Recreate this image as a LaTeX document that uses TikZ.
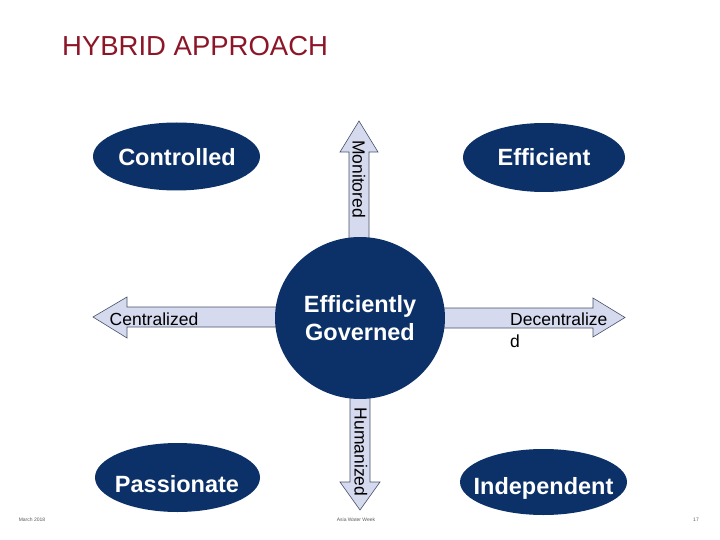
\documentclass[tikz,border=0pt]{standalone}
\usepackage{fontspec}
\setmainfont{Liberation Sans}
\usetikzlibrary{shapes.geometric}
\definecolor{navy}{RGB}{11,49,104}
\definecolor{lav}{RGB}{214,218,238}
\definecolor{edgec}{RGB}{70,80,105}
\definecolor{titlered}{RGB}{140,22,40}
\definecolor{footgray}{RGB}{90,90,90}
\begin{document}
\begin{tikzpicture}[x=1pt,y=-1pt,
  oval/.style={ellipse, fill=navy, draw=none, inner sep=0pt},
  wt/.style={text=white, inner sep=0pt, font=\fontsize{23.5}{28}\selectfont\bfseries},
  arrowbox/.style={fill=lav, draw=edgec, line width=0.6pt, line join=miter},
  lbl/.style={text=black, inner sep=0pt, font=\fontsize{17.5}{22}\selectfont},
  foot/.style={text=footgray, inner sep=0pt, font=\fontsize{5}{6}\selectfont}]
\useasboundingbox (0,0) rectangle (720,540);
\fill[white] (0,0) rectangle (720,540);

% title
\node[anchor=base west, inner sep=0pt, text=titlered, font=\fontsize{27.5}{30}\selectfont] (title) at (62,56) {HYBRID APPROACH};

% block arrows
\draw[arrowbox] (290,307) -- (127,307) -- (127,297) -- (93,317) -- (127,338) -- (127,327) -- (290,327) -- cycle;
\draw[arrowbox] (430,308) -- (593,308) -- (593,298) -- (625,317.5) -- (593,337) -- (593,328) -- (430,328) -- cycle;
\draw[arrowbox] (349,245) -- (349,152) -- (340,152) -- (359,121) -- (378,152) -- (369,152) -- (369,245) -- cycle;
\draw[arrowbox] (350,390) -- (350,482) -- (340,482) -- (360,510) -- (380,482) -- (370,482) -- (370,390) -- cycle;

% arrow labels
\node[lbl] (cen) at (154,319) {Centralized};
\node[lbl, anchor=north west, align=left] (dec) at (510,312.3) {Decentralize\\d};
\node[lbl, rotate=-90] (mon) at (359,179) {Monitored};
\node[lbl, rotate=-90] (hum) at (361,452) {Humanized};

% centre circle
\node[oval, minimum width=170, minimum height=162, text=white, align=center,
      font=\fontsize{23.5}{28}\selectfont\bfseries] (gov) at (360,318) {Efficiently\\Governed};

% corner ellipses
\node[oval, minimum width=167, minimum height=68] (ctlE) at (176.5,156.5) {};
\node[wt, anchor=base] (ctl) at (177,166) {Controlled};
\node[oval, minimum width=162, minimum height=69] (effE) at (544,157.5) {};
\node[wt, anchor=base] (eff) at (544,166) {Efficient};
\node[oval, minimum width=165, minimum height=69] (pasE) at (177.5,477.5) {};
\node[wt, anchor=base] (pas) at (177,492) {Passionate};
\node[oval, minimum width=167, minimum height=66] (indE) at (543.5,482) {};
\node[wt, anchor=base] (ind) at (543.5,494) {Independent};

% footer
\node[foot] (date) at (32,520) {March 2018};
\node[foot] (event) at (356,520) {Asia Water Week};
\node[foot] (page) at (696,520) {17};
\end{tikzpicture}
\end{document}
